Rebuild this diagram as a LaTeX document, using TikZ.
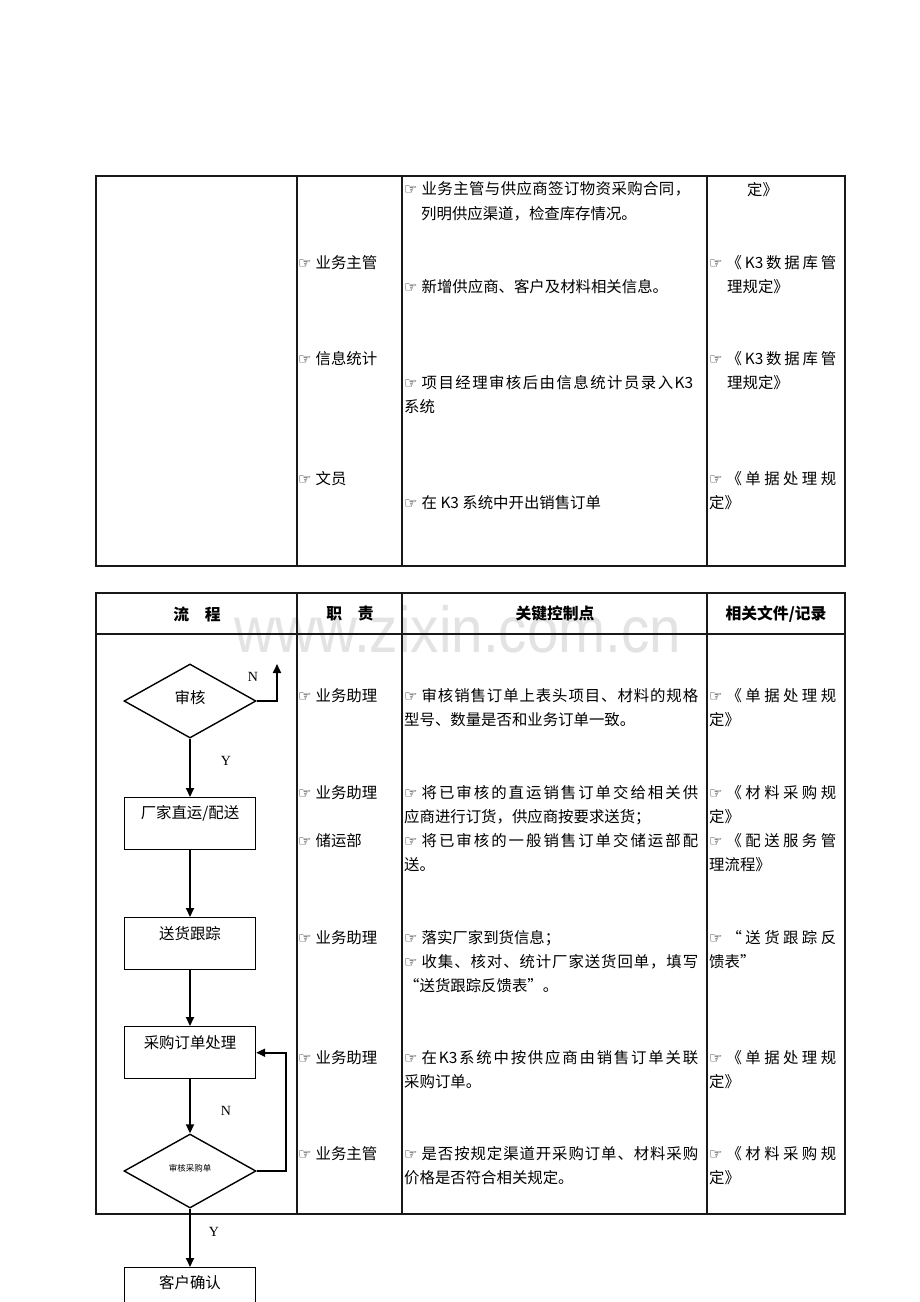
\documentclass[tikz,border=0pt]{standalone}
\usepackage{fontspec}
\usetikzlibrary{arrows.meta,shapes.geometric}
\setmainfont{Noto Sans CJK SC}
\newfontfamily\dv{DejaVu Sans}
\newfontfamily\wmfont{Liberation Sans}
\newfontfamily\serfont{Liberation Serif}
\newcommand\hand{{\dv\fontsize{15}{15}\selectfont ☞}}
\makeatletter
\def\spreadchars#1{\spread@aux#1\relax}
\def\spread@aux#1{\ifx\relax#1\else#1\hfil\expandafter\spread@aux\fi}
\makeatother
\newcommand\jl[2]{\hbox to #1{\hand\hspace{4pt}\spreadchars{#2}\unskip}}
\newcommand\hl[1]{\hand\hspace{4pt}#1}
\begin{document}
\begin{tikzpicture}[x=1pt,y=-1pt,
  tline/.style={line width=1.8pt, draw=black!90},
  t/.style={anchor=base west, inner sep=0pt, font=\fontsize{15.4}{18}\selectfont},
  hd/.style={anchor=center, inner sep=0pt, font=\fontsize{15.8}{18}\selectfont\bfseries},
  fbox/.style={draw, line width=1.4pt, minimum width=131pt, minimum height=52pt, inner sep=0pt, anchor=north},
  fdia/.style={draw, diamond, line width=1.4pt, minimum width=132pt, minimum height=74pt, inner sep=0pt},
  ft/.style={anchor=center, inner sep=0pt, font=\fontsize{15.4}{18}\selectfont},
  yn/.style={anchor=center, inner sep=0pt, font=\serfont\fontsize{14}{14}\selectfont},
  arr/.style={line width=1.8pt, -{Triangle[length=9pt,width=8pt]}}
]
\useasboundingbox (0,0) rectangle (920,1302);
\clip (0,0) rectangle (920,1302);
\fill[white] (0,0) rectangle (920,1302);

% watermark
\node[anchor=base, inner sep=0pt, text=black!11, xscale=0.87,
  font=\wmfont\fontsize{65}{65}\selectfont] (wm) at (458,652) {www.zixin.com.cn};

% ---------- table 1 ----------
\draw[tline] (96,176) rectangle (845,566);
\draw[tline] (297,176) -- (297,566);
\draw[tline] (402,176) -- (402,566);
\draw[tline] (707,176) -- (707,566);

\node[t] (a21) at (298,268) {\hl{业务主管}};
\node[t] (a22) at (298,364) {\hl{信息统计}};
\node[t] (a23) at (298,484) {\hl{文员}};

\node[t] (a31) at (404,194) {\jl{286pt}{业务主管与供应商签订物资采购合同，}};
\node[t] (a32) at (421,219) {列明供应渠道，检查库存情况。};
\node[t] (a33) at (404,292) {\hl{新增供应商、客户及材料相关信息。}};
\node[t] (a34) at (404,388) {\jl{289pt}{项目经理审核后由信息统计员录入{K3}}};
\node[t] (a35) at (404,412) {系统};
\node[t] (a36) at (404,508) {\hl{在 K3 系统中开出销售订单}};

\node[t] (a41) at (747,195) {定》};
\node[t] (a42) at (709,268) {\jl{127pt}{《{K3}数据库管}};
\node[t] (a43) at (727,292) {理规定》};
\node[t] (a44) at (709,364) {\jl{127pt}{《{K3}数据库管}};
\node[t] (a45) at (727,388) {理规定》};
\node[t] (a46) at (709,484) {\jl{127pt}{《单据处理规}};
\node[t] (a47) at (709,508) {定》};

% ---------- table 2 ----------
\draw[tline] (96,593) rectangle (845,1214);
\draw[tline] (96,634) -- (845,634);
\draw[tline] (297,593) -- (297,1214);
\draw[tline] (402,593) -- (402,1214);
\draw[tline] (707,593) -- (707,1214);

\node[hd] (h1) at (197,614) {流\hspace{1em}程};
\node[hd] (h2) at (350,614) {职\hspace{1em}责};
\node[hd] (h3) at (555,614) {关键控制点};
\node[hd] (h4) at (776,614) {相关文件/记录};

\node[t] (c21) at (298,701) {\hl{业务助理}};
\node[t] (c22) at (298,798) {\hl{业务助理}};
\node[t] (c23) at (298,846) {\hl{储运部}};
\node[t] (c24) at (298,943) {\hl{业务助理}};
\node[t] (c25) at (298,1063) {\hl{业务助理}};
\node[t] (c26) at (298,1159) {\hl{业务主管}};

\node[t] (c31) at (404,701) {\jl{294pt}{审核销售订单上表头项目、材料的规格}};
\node[t] (c32) at (404,725) {型号、数量是否和业务订单一致。};
\node[t] (c33) at (404,798) {\jl{294pt}{将已审核的直运销售订单交给相关供}};
\node[t] (c34) at (404,822) {应商进行订货，供应商按要求送货；};
\node[t] (c35) at (404,846) {\jl{294pt}{将已审核的一般销售订单交储运部配}};
\node[t] (c36) at (404,870) {送。};
\node[t] (c37) at (404,943) {\hl{落实厂家到货信息；}};
\node[t] (c38) at (404,967) {\jl{294pt}{收集、核对、统计厂家送货回单，填写}};
\node[t] (c39) at (404,991) {“送货跟踪反馈表”。};
\node[t] (c310) at (404,1063) {\jl{294pt}{在{K3}系统中按供应商由销售订单关联}};
\node[t] (c311) at (404,1087) {采购订单。};
\node[t] (c312) at (404,1159) {\jl{294pt}{是否按规定渠道开采购订单、材料采购}};
\node[t] (c313) at (404,1183) {价格是否符合相关规定。};

\node[t] (c41) at (709,701) {\jl{127pt}{《单据处理规}};
\node[t] (c42) at (709,725) {定》};
\node[t] (c43) at (709,798) {\jl{127pt}{《材料采购规}};
\node[t] (c44) at (709,822) {定》};
\node[t] (c45) at (709,846) {\jl{127pt}{《配送服务管}};
\node[t] (c46) at (709,870) {理流程》};
\node[t] (c47) at (709,943) {\jl{127pt}{“送货跟踪反}};
\node[t] (c48) at (709,967) {馈表”};
\node[t] (c49) at (709,1063) {\jl{127pt}{《单据处理规}};
\node[t] (c410) at (709,1087) {定》};
\node[t] (c411) at (709,1159) {\jl{127pt}{《材料采购规}};
\node[t] (c412) at (709,1183) {定》};

% ---------- flowchart ----------
\node[fdia] (d1) at (190,701) {};
\node[ft] (d1t) at (190,698) {审核};
\node[fbox] (b1) at (190,797) {};
\node[ft] (b1t) at (190,813) {厂家直运/配送};
\node[fbox] (b2) at (190,917) {};
\node[ft] (b2t) at (190,934) {送货跟踪};
\node[fbox] (b3) at (190,1026) {};
\node[ft] (b3t) at (190,1043) {采购订单处理};
\node[fdia] (d2) at (190,1171) {};
\node[ft] (d2t) at (190,1168) {\fontsize{8.5}{9}\selectfont 审核采购单};
\node[fbox] (b4) at (190,1267) {};
\node[ft] (b4t) at (190,1283) {客户确认};

\coordinate (nEnd) at (277,664);
\draw[arr] (d1.east) -| (nEnd);
\node[yn] (n1) at (253,677) {N};
\draw[arr] (d1.south) -- (b1.north);
\node[yn] (y1) at (226,761) {Y};
\draw[arr] (b1.south) -- (b2.north);
\draw[arr] (b2.south) -- (b3.north);
\draw[arr] (b3.south) -- (d2.north);
\node[yn] (n2) at (226,1111) {N};
\coordinate (lp) at (286,1171);
\draw[arr] (d2.east) -- (lp) |- (b3.east);
\draw[arr] (d2.south) -- (b4.north);
\node[yn] (y2) at (214,1232) {Y};
\end{tikzpicture}
\end{document}
